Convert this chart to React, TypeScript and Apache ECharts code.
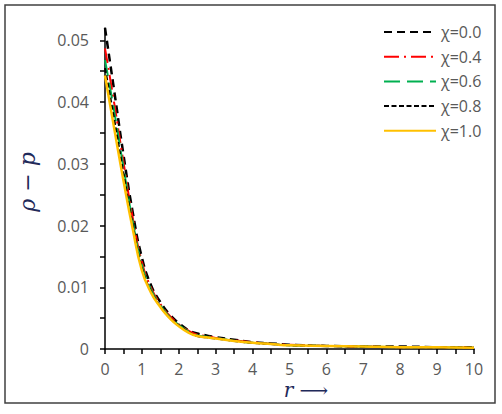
import React, { useEffect, useRef } from "react";
import * as echarts from "echarts";

const rValues = [0, 0.25, 0.5, 0.75, 1, 1.25, 1.5, 1.75, 2, 2.25, 2.5, 2.75, 3, 3.5, 4, 4.5, 5, 6, 7, 8, 9, 10];

const chi00 = [0.052, 0.0418, 0.0315, 0.0222, 0.0148, 0.0103, 0.0076, 0.0056, 0.0042, 0.0031, 0.0025, 0.0022, 0.0019, 0.0015, 0.0011, 0.0009, 0.0007, 0.0005, 0.0004, 0.0004, 0.0003, 0.0003];
const chi04 = [0.0487, 0.0398, 0.0303, 0.0213, 0.0141, 0.0099, 0.0073, 0.0054, 0.004, 0.003, 0.0023, 0.0021, 0.0018, 0.0014, 0.0011, 0.0008, 0.0007, 0.0005, 0.0004, 0.0003, 0.0003, 0.0002];
const chi06 = [0.0468, 0.0385, 0.0294, 0.0207, 0.0136, 0.0096, 0.0071, 0.0052, 0.0039, 0.0029, 0.0022, 0.002, 0.0018, 0.0013, 0.001, 0.0008, 0.0006, 0.0005, 0.0004, 0.0003, 0.0003, 0.0002];
const chi08 = [0.0455, 0.0372, 0.0285, 0.0201, 0.0131, 0.0093, 0.0069, 0.0051, 0.0038, 0.0028, 0.0021, 0.0019, 0.0017, 0.0013, 0.001, 0.0008, 0.0006, 0.0005, 0.0004, 0.0003, 0.0003, 0.0002];
const chi10 = [0.0443, 0.0357, 0.0273, 0.0195, 0.0127, 0.0091, 0.0068, 0.005, 0.0037, 0.0027, 0.0021, 0.0019, 0.0017, 0.0013, 0.001, 0.0008, 0.0006, 0.0005, 0.0004, 0.0003, 0.0003, 0.0002];

const seriesNames = ["χ=0.0", "χ=0.4", "χ=0.6", "χ=0.8", "χ=1.0"];

const xLabelValues = [0, 1, 2, 3, 4, 5, 6, 7, 8, 9, 10];
const xTickValues = [0, 0.5, 1, 1.5, 2, 2.5, 3, 3.5, 4, 4.5, 5, 5.5, 6, 6.5, 7, 7.5, 8, 8.5, 9, 9.5, 10];
const yLabelValues = [0, 0.01, 0.02, 0.03, 0.04, 0.05];
const yTickValues = [0, 0.005, 0.01, 0.015, 0.02, 0.025, 0.03, 0.035, 0.04, 0.045, 0.05];

const pair = (ys: number[]) => rValues.map((r, i) => [r, ys[i]]);

export default function App() {
  const ref = useRef<HTMLDivElement>(null);
  useEffect(() => {
    if (!ref.current) return;
    const chart = echarts.init(ref.current, null, { renderer: "svg" });
    const labelColor = "#595959";
    const font = "'Open Sans', sans-serif";
    const styles = [
      { color: "#000000", width: 2.5, type: [8, 5] },
      { color: "#FF0000", width: 2, type: [15, 5, 2, 5] },
      { color: "#00B050", width: 2, type: [16, 7] },
      { color: "#000000", width: 2, type: [5, 2.5] },
      { color: "#FFC000", width: 2.5, type: "solid" },
    ];
    const data = [chi00, chi04, chi06, chi08, chi10];
    chart.setOption({
      animation: false,
      backgroundColor: "#ffffff",
      grid: { left: 105, right: 28, top: 28, bottom: 65, containLabel: false },
      legend: {
        orient: "vertical",
        left: 378,
        top: 19,
        itemWidth: 52,
        itemHeight: 16,
        itemGap: 8.7,
        data: seriesNames,
        itemStyle: { opacity: 0 },
        textStyle: { color: labelColor, fontSize: 16, fontFamily: font, lineHeight: 16 },
      },
      xAxis: {
        type: "value",
        min: 0,
        max: 10,
        splitLine: { show: false },
        axisLine: { lineStyle: { color: "#000", width: 1.5 } },
        axisTick: { show: true, length: 5, lineStyle: { color: "#000", width: 1.5 }, customValues: xTickValues },
        axisLabel: { color: labelColor, fontSize: 16, fontFamily: font, margin: 12, customValues: xLabelValues },
      },
      yAxis: {
        type: "value",
        min: 0,
        max: 0.052,
        splitLine: { show: false },
        axisLine: { show: true, lineStyle: { color: "#000", width: 1.5 } },
        axisTick: { show: true, length: 5, lineStyle: { color: "#000", width: 1.5 }, customValues: yTickValues },
        axisLabel: { color: labelColor, fontSize: 16, fontFamily: font, margin: 16, customValues: yLabelValues },
      },
      series: seriesNames.map((name, i) => ({
        name,
        type: "line",
        smooth: 0.5,
        symbol: "none",
        data: pair(data[i]),
        lineStyle: styles[i],
        itemStyle: { color: styles[i].color },
        z: 2 + i,
      })),
      graphic: [
        {
          type: "rect",
          shape: { x: 5, y: 5, width: 490, height: 398 },
          style: { fill: "none", stroke: "#404040", lineWidth: 1.5 },
          silent: true,
        },
        {
          type: "text",
          x: 27,
          y: 182,
          rotation: Math.PI / 2,
          style: {
            text: "ρ − p",
            font: "italic 22px 'DejaVu Serif', serif",
            fill: "#1F2A5A",
            align: "center",
            verticalAlign: "middle",
          },
        },
        {
          type: "text",
          x: 306,
          y: 390,
          style: {
            text: "r ⟶",
            font: "italic 20px 'DejaVu Serif', serif",
            fill: "#1F2A5A",
            align: "center",
            verticalAlign: "middle",
          },
        },
      ],
    });
    return () => chart.dispose();
  }, []);
  return (
    <div
      ref={ref}
      style={{ position: "absolute", left: 0, top: 0, width: 502, height: 414 }}
    />
  );
}
